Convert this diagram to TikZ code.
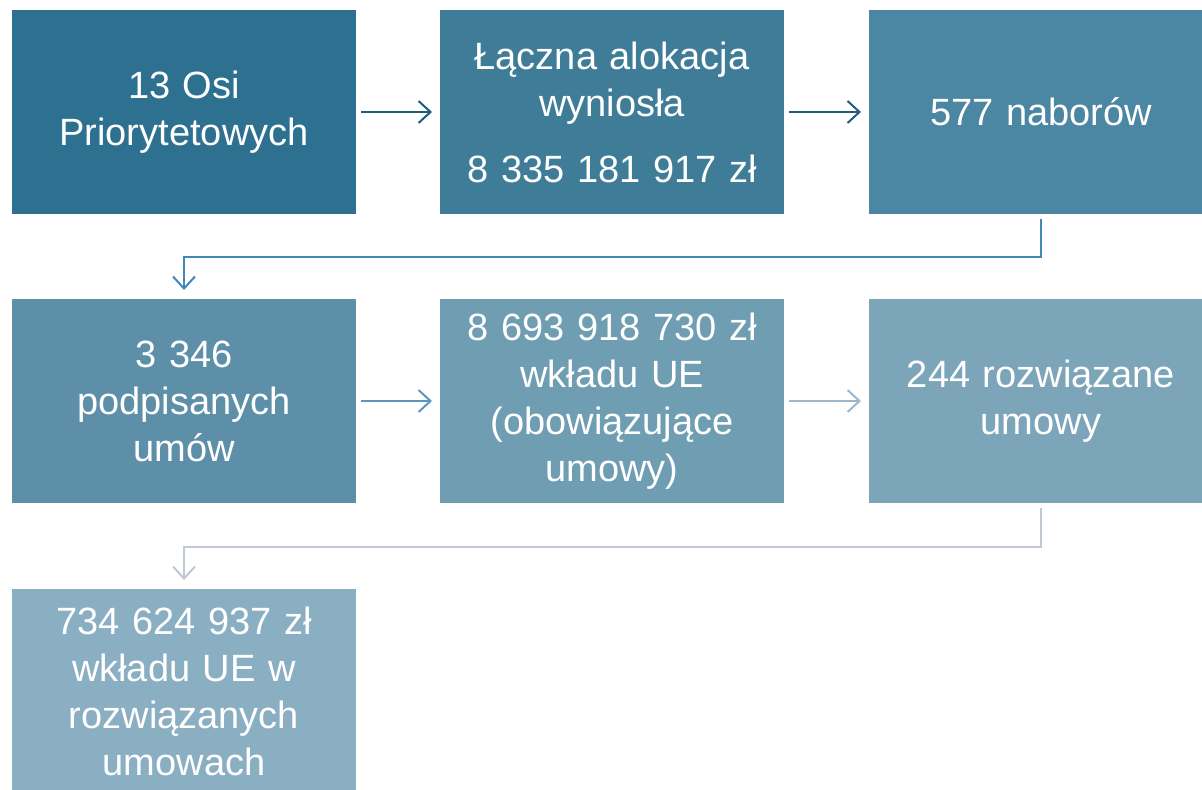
\documentclass[tikz,border=0pt]{standalone}
\usepackage{fontspec}
\setmainfont{Liberation Sans}
\usetikzlibrary{arrows.meta}
\definecolor{stageA}{HTML}{2E7090}
\definecolor{stageB}{HTML}{3F7C98}
\definecolor{stageC}{HTML}{4B86A2}
\definecolor{stageD}{HTML}{5D90A8}
\definecolor{stageE}{HTML}{6F9DB2}
\definecolor{stageF}{HTML}{7DA5B9}
\definecolor{stageG}{HTML}{8BAFC2}
\definecolor{flowA}{HTML}{1F5C80}
\definecolor{flowB}{HTML}{3F88B8}
\definecolor{flowC}{HTML}{5C96BE}
\definecolor{flowD}{HTML}{9CB6CC}
\definecolor{flowE}{HTML}{C0C8D3}
\tikzstyle{stage}=[draw=none, inner sep=0, outer sep=0, minimum width=172pt, minimum height=102pt,
                   text width=166pt, align=center, text=white, font=\fontsize{19}{23.5}\selectfont]
\tikzstyle{flow}=[line width=1pt, -{Straight Barb[length=6pt, width=11pt]},
                  shorten <=2.5pt, shorten >=4pt]
\tikzstyle{link}=[flow, shorten >=4.5pt]
\begin{document}
\begin{tikzpicture}[x=0.5pt, y=-0.5pt]
        % Page frame, one unit is one pixel of the reference.
        \clip (0, 0) rectangle (1202, 790);
        \node[stage, fill=stageA] (osie) at (184, 112) {13 Osi\\ Priorytetowych};
        \node[stage, fill=stageB] (alokacja) at (612, 112) {Łączna alokacja\\ wyniosła\\[9.5pt] 8 335 181 917 zł};
        \node[stage, fill=stageC] (nabory) at (1041, 112) {577 naborów};
        \node[stage, fill=stageD] (umowy) at (184, 401) {3 346\\ podpisanych\\ umów};
        \node[stage, fill=stageE] (wklad) at (612, 401) {8 693 918 730 zł\\ wkładu UE\\ (obowiązujące\\ umowy)};
        \node[stage, fill=stageF] (rozwiazane) at (1041, 401) {244 rozwiązane\\ umowy};
        \node[stage, fill=stageG] (wkladR) at (184, 691) {734 624 937 zł\\ wkładu UE w\\ rozwiązanych\\ umowach};
        \draw[flow, flowA] (osie) -- (alokacja);
        \draw[flow, flowA] (alokacja) -- (nabory);
        \draw[link, flowB] (nabory.south) -- ++(0, 43) -| (umowy.north);
        \draw[flow, flowC] (umowy) -- (wklad);
        \draw[flow, flowD] (wklad) -- (rozwiazane);
        \draw[link, flowE] (rozwiazane.south) -- ++(0, 44) -| (wkladR.north);
    \end{tikzpicture}
\end{document}
